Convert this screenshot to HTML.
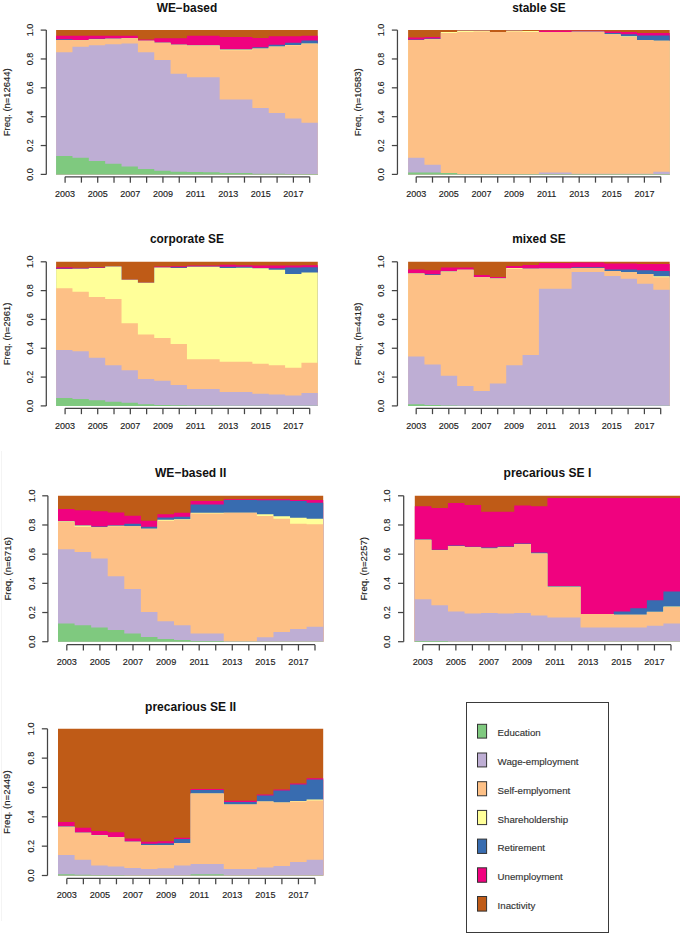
<!DOCTYPE html>
<html><head><meta charset="utf-8"><style>
html,body{margin:0;padding:0;background:#fff;}
svg{display:block;font-family:"Liberation Sans",sans-serif;}
text{stroke-width:0.15px;}
</style></head><body>
<svg width="685" height="936" viewBox="0 0 685 936">
<rect width="685" height="936" fill="#fff"/>
<path d="M1.5 451V921" stroke="#f4f4f4" stroke-width="1"/>
<path d="M56.1 174.4V30.1H72.46V30.1H88.81V30.1H105.17V30.1H121.53V30.1H137.88V30.1H154.24V30.1H170.59V30.1H186.95V30.1H203.31V30.1H219.66V30.1H236.02V30.1H252.37V30.1H268.73V30.1H285.09V30.1H301.44V30.1H317.8V174.4Z" fill="#BF5B17"/>
<path d="M56.1 174.4V35.87H72.46V35.87H88.81V35.87H105.17V35.87H121.53V35.87H137.88V39.48H154.24V38.18H170.59V38.18H186.95V35.87H203.31V35.87H219.66V36.88H236.02V36.88H252.37V37.89H268.73V36.3H285.09V36.3H301.44V35.87H317.8V174.4Z" fill="#F0027F"/>
<path d="M56.1 174.4V39.34H72.46V40.06H88.81V38.76H105.17V38.61H121.53V38.04H137.88V40.78H154.24V42.51H170.59V44.53H186.95V45.11H203.31V45.11H219.66V49.15H236.02V49.15H252.37V47.13H268.73V44.82H285.09V42.8H301.44V40.49H317.8V174.4Z" fill="#386CB0"/>
<path d="M56.1 174.4V39.91H72.46V40.2H88.81V39.19H105.17V38.76H121.53V38.18H137.88V40.78H154.24V42.8H170.59V44.82H186.95V45.4H203.31V45.4H219.66V49.44H236.02V49.44H252.37V48.57H268.73V46.55H285.09V44.96H301.44V43.52H317.8V174.4Z" fill="#FFFF99"/>
<path d="M56.1 174.4V39.91H72.46V40.2H88.81V39.19H105.17V38.76H121.53V38.18H137.88V40.78H154.24V42.8H170.59V44.82H186.95V45.4H203.31V45.4H219.66V50.16H236.02V50.16H252.37V48.86H268.73V46.84H285.09V45.25H301.44V43.81H317.8V174.4Z" fill="#FDC086"/>
<path d="M56.1 174.4V52.32H72.46V46.84H88.81V45.25H105.17V44.24H121.53V43.38H137.88V52.32H154.24V60.11H170.59V73.68H186.95V77.14H203.31V77.14H219.66V99.51H236.02V99.51H252.37V107.88H268.73V112.93H285.09V118.41H301.44V122.74H317.8V174.4Z" fill="#BEAED4"/>
<path d="M56.1 174.4V156.07H72.46V157.66H88.81V161.12H105.17V163.72H121.53V166.46H137.88V169.06H154.24V170.65H170.59V171.66H186.95V171.95H203.31V172.24H219.66V172.96H236.02V172.96H252.37V173.68H268.73V173.82H285.09V173.97H301.44V174.11H317.8V174.4Z" fill="#7FC97F"/>
<g stroke="#444" stroke-width="1.25" fill="none"><path d="M46.3 174.4V30.1" /><path d="M40.7 174.4H46.3" /><path d="M40.7 145.54H46.3" /><path d="M40.7 116.68H46.3" /><path d="M40.7 87.82H46.3" /><path d="M40.7 58.96H46.3" /><path d="M40.7 30.1H46.3" /><path d="M65.1 176.85H309.7" /><path d="M65.1 176.85V182.65" /><path d="M81.41 176.85V182.65" /><path d="M97.71 176.85V182.65" /><path d="M114.02 176.85V182.65" /><path d="M130.33 176.85V182.65" /><path d="M146.63 176.85V182.65" /><path d="M162.94 176.85V182.65" /><path d="M179.25 176.85V182.65" /><path d="M195.55 176.85V182.65" /><path d="M211.86 176.85V182.65" /><path d="M228.17 176.85V182.65" /><path d="M244.47 176.85V182.65" /><path d="M260.78 176.85V182.65" /><path d="M277.09 176.85V182.65" /><path d="M293.39 176.85V182.65" /><path d="M309.7 176.85V182.65" /></g>
<g font-size="9" fill="#222" stroke="#222"><text transform="translate(33.1 174.4) rotate(-90)" text-anchor="middle">0.0</text><text transform="translate(33.1 145.54) rotate(-90)" text-anchor="middle">0.2</text><text transform="translate(33.1 116.68) rotate(-90)" text-anchor="middle">0.4</text><text transform="translate(33.1 87.82) rotate(-90)" text-anchor="middle">0.6</text><text transform="translate(33.1 58.96) rotate(-90)" text-anchor="middle">0.8</text><text transform="translate(33.1 30.1) rotate(-90)" text-anchor="middle">1.0</text><text x="65.1" y="197" text-anchor="middle">2003</text><text x="97.71" y="197" text-anchor="middle">2005</text><text x="130.33" y="197" text-anchor="middle">2007</text><text x="162.94" y="197" text-anchor="middle">2009</text><text x="195.55" y="197" text-anchor="middle">2011</text><text x="228.17" y="197" text-anchor="middle">2013</text><text x="260.78" y="197" text-anchor="middle">2015</text><text x="293.39" y="197" text-anchor="middle">2017</text></g>
<text transform="translate(9.7 102.25) rotate(-90)" text-anchor="middle" font-size="9.45" fill="#222" stroke="#222">Freq. (n=12644)</text>
<text x="186.95" y="11.6" text-anchor="middle" font-size="11.9" font-weight="bold" fill="#111">WE−based</text>
<path d="M408.1 174.4V30.1H424.45V30.1H440.8V30.1H457.15V30.1H473.5V30.1H489.85V30.1H506.2V30.1H522.55V30.1H538.9V30.1H555.25V30.1H571.6V30.1H587.95V30.1H604.3V30.1H620.65V30.1H637V30.1H653.35V30.1H669.7V174.4Z" fill="#BF5B17"/>
<path d="M408.1 174.4V37.46H424.45V36.88H440.8V31.98H457.15V30.82H473.5V30.82H489.85V31.98H506.2V30.82H522.55V30.97H538.9V30.39H555.25V30.39H571.6V30.82H587.95V30.82H604.3V31.4H620.65V31.98H637V32.99H653.35V32.99H669.7V174.4Z" fill="#F0027F"/>
<path d="M408.1 174.4V39.48H424.45V38.47H440.8V31.98H457.15V30.82H473.5V30.82H489.85V31.98H506.2V30.82H522.55V30.97H538.9V31.98H555.25V31.98H571.6V31.4H587.95V31.4H604.3V32.99H620.65V34.28H637V35.44H653.35V35.44H669.7V174.4Z" fill="#386CB0"/>
<path d="M408.1 174.4V39.91H424.45V39.19H440.8V31.98H457.15V30.82H473.5V30.82H489.85V31.98H506.2V30.82H522.55V30.97H538.9V31.98H555.25V31.98H571.6V31.83H587.95V31.83H604.3V34.28H620.65V36.3H637V39.91H653.35V40.78H669.7V174.4Z" fill="#FFFF99"/>
<path d="M408.1 174.4V39.91H424.45V39.19H440.8V32.99H457.15V31.98H473.5V31.54H489.85V31.98H506.2V31.54H522.55V32.12H538.9V31.98H555.25V31.98H571.6V31.83H587.95V31.83H604.3V34.28H620.65V36.88H637V39.91H653.35V40.78H669.7V174.4Z" fill="#FDC086"/>
<path d="M408.1 174.4V157.66H424.45V164.73H440.8V172.96H457.15V173.97H473.5V174.11H489.85V174.11H506.2V174.11H522.55V174.11H538.9V172.38H555.25V172.38H571.6V173.68H587.95V173.68H604.3V173.68H620.65V173.68H637V173.68H653.35V171.8H669.7V174.4Z" fill="#BEAED4"/>
<path d="M408.1 174.4V172.38H424.45V172.38H440.8V172.96H457.15V173.97H473.5V174.11H489.85V174.11H506.2V174.11H522.55V174.11H538.9V173.97H555.25V173.97H571.6V173.97H587.95V173.97H604.3V173.97H620.65V173.97H637V173.97H653.35V173.97H669.7V174.4Z" fill="#7FC97F"/>
<g stroke="#444" stroke-width="1.25" fill="none"><path d="M397.45 174.4V30.1" /><path d="M391.85 174.4H397.45" /><path d="M391.85 145.54H397.45" /><path d="M391.85 116.68H397.45" /><path d="M391.85 87.82H397.45" /><path d="M391.85 58.96H397.45" /><path d="M391.85 30.1H397.45" /><path d="M416.2 176.85H660.7" /><path d="M416.2 176.85V182.65" /><path d="M432.5 176.85V182.65" /><path d="M448.8 176.85V182.65" /><path d="M465.1 176.85V182.65" /><path d="M481.4 176.85V182.65" /><path d="M497.7 176.85V182.65" /><path d="M514 176.85V182.65" /><path d="M530.3 176.85V182.65" /><path d="M546.6 176.85V182.65" /><path d="M562.9 176.85V182.65" /><path d="M579.2 176.85V182.65" /><path d="M595.5 176.85V182.65" /><path d="M611.8 176.85V182.65" /><path d="M628.1 176.85V182.65" /><path d="M644.4 176.85V182.65" /><path d="M660.7 176.85V182.65" /></g>
<g font-size="9" fill="#222" stroke="#222"><text transform="translate(384.25 174.4) rotate(-90)" text-anchor="middle">0.0</text><text transform="translate(384.25 145.54) rotate(-90)" text-anchor="middle">0.2</text><text transform="translate(384.25 116.68) rotate(-90)" text-anchor="middle">0.4</text><text transform="translate(384.25 87.82) rotate(-90)" text-anchor="middle">0.6</text><text transform="translate(384.25 58.96) rotate(-90)" text-anchor="middle">0.8</text><text transform="translate(384.25 30.1) rotate(-90)" text-anchor="middle">1.0</text><text x="416.2" y="197" text-anchor="middle">2003</text><text x="448.8" y="197" text-anchor="middle">2005</text><text x="481.4" y="197" text-anchor="middle">2007</text><text x="514" y="197" text-anchor="middle">2009</text><text x="546.6" y="197" text-anchor="middle">2011</text><text x="579.2" y="197" text-anchor="middle">2013</text><text x="611.8" y="197" text-anchor="middle">2015</text><text x="644.4" y="197" text-anchor="middle">2017</text></g>
<text transform="translate(360.85 102.25) rotate(-90)" text-anchor="middle" font-size="9.45" fill="#222" stroke="#222">Freq. (n=10583)</text>
<text x="538.9" y="11.6" text-anchor="middle" font-size="11.9" font-weight="bold" fill="#111">stable SE</text>
<path d="M56.1 405.9V261.8H72.46V261.8H88.81V261.8H105.17V261.8H121.53V261.8H137.88V261.8H154.24V261.8H170.59V261.8H186.95V261.8H203.31V261.8H219.66V261.8H236.02V261.8H252.37V261.8H268.73V261.8H285.09V261.8H301.44V261.8H317.8V405.9Z" fill="#BF5B17"/>
<path d="M56.1 405.9V267.28H72.46V267.85H88.81V267.13H105.17V266.56H121.53V279.81H137.88V282.84H154.24V266.41H170.59V266.27H186.95V265.55H203.31V265.55H219.66V264.83H236.02V265.26H252.37V265.55H268.73V265.55H285.09V265.55H301.44V265.26H317.8V405.9Z" fill="#F0027F"/>
<path d="M56.1 405.9V268.57H72.46V268.57H88.81V267.85H105.17V266.56H121.53V279.81H137.88V282.84H154.24V267.42H170.59V267.28H186.95V266.56H203.31V266.56H219.66V266.7H236.02V266.7H252.37V268H268.73V268.28H285.09V267.56H301.44V267.28H317.8V405.9Z" fill="#386CB0"/>
<path d="M56.1 405.9V269H72.46V268.72H88.81V268H105.17V266.56H121.53V279.81H137.88V282.84H154.24V267.56H170.59V268H186.95V266.7H203.31V266.7H219.66V268H236.02V267.85H252.37V268.28H268.73V269.73H285.09V274.05H301.44V272.61H317.8V405.9Z" fill="#FFFF99"/>
<path d="M56.1 405.9V288.17H72.46V291.77H88.81V297.1H105.17V299.12H121.53V323.19H137.88V334.43H154.24V338.03H170.59V343.94H186.95V359.21H203.31V359.21H219.66V361.66H236.02V361.66H252.37V363.68H268.73V365.26H285.09V367.86H301.44V362.81H317.8V405.9Z" fill="#FDC086"/>
<path d="M56.1 405.9V349.99H72.46V351.29H88.81V357.63H105.17V365.26H121.53V370.16H137.88V379.1H154.24V380.68H170.59V385.01H186.95V389.04H203.31V389.04H219.66V392.07H236.02V392.07H252.37V393.65H268.73V394.52H285.09V395.52H301.44V392.93H317.8V405.9Z" fill="#BEAED4"/>
<path d="M56.1 405.9V397.97H72.46V398.98H88.81V400.28H105.17V401.87H121.53V402.87H137.88V404.31H154.24V404.89H170.59V405.32H186.95V405.61H203.31V405.61H219.66V405.76H236.02V405.76H252.37V405.76H268.73V405.76H285.09V405.76H301.44V405.76H317.8V405.9Z" fill="#7FC97F"/>
<g stroke="#444" stroke-width="1.25" fill="none"><path d="M46.3 405.9V261.8" /><path d="M40.7 405.9H46.3" /><path d="M40.7 377.08H46.3" /><path d="M40.7 348.26H46.3" /><path d="M40.7 319.44H46.3" /><path d="M40.7 290.62H46.3" /><path d="M40.7 261.8H46.3" /><path d="M65.1 408.35H309.7" /><path d="M65.1 408.35V414.15" /><path d="M81.41 408.35V414.15" /><path d="M97.71 408.35V414.15" /><path d="M114.02 408.35V414.15" /><path d="M130.33 408.35V414.15" /><path d="M146.63 408.35V414.15" /><path d="M162.94 408.35V414.15" /><path d="M179.25 408.35V414.15" /><path d="M195.55 408.35V414.15" /><path d="M211.86 408.35V414.15" /><path d="M228.17 408.35V414.15" /><path d="M244.47 408.35V414.15" /><path d="M260.78 408.35V414.15" /><path d="M277.09 408.35V414.15" /><path d="M293.39 408.35V414.15" /><path d="M309.7 408.35V414.15" /></g>
<g font-size="9" fill="#222" stroke="#222"><text transform="translate(33.1 405.9) rotate(-90)" text-anchor="middle">0.0</text><text transform="translate(33.1 377.08) rotate(-90)" text-anchor="middle">0.2</text><text transform="translate(33.1 348.26) rotate(-90)" text-anchor="middle">0.4</text><text transform="translate(33.1 319.44) rotate(-90)" text-anchor="middle">0.6</text><text transform="translate(33.1 290.62) rotate(-90)" text-anchor="middle">0.8</text><text transform="translate(33.1 261.8) rotate(-90)" text-anchor="middle">1.0</text><text x="65.1" y="428.5" text-anchor="middle">2003</text><text x="97.71" y="428.5" text-anchor="middle">2005</text><text x="130.33" y="428.5" text-anchor="middle">2007</text><text x="162.94" y="428.5" text-anchor="middle">2009</text><text x="195.55" y="428.5" text-anchor="middle">2011</text><text x="228.17" y="428.5" text-anchor="middle">2013</text><text x="260.78" y="428.5" text-anchor="middle">2015</text><text x="293.39" y="428.5" text-anchor="middle">2017</text></g>
<text transform="translate(9.7 333.85) rotate(-90)" text-anchor="middle" font-size="9.45" fill="#222" stroke="#222">Freq. (n=2961)</text>
<text x="186.95" y="243.3" text-anchor="middle" font-size="11.9" font-weight="bold" fill="#111">corporate SE</text>
<path d="M408.1 405.9V261.8H424.45V261.8H440.8V261.8H457.15V261.8H473.5V261.8H489.85V261.8H506.2V261.8H522.55V261.8H538.9V261.8H555.25V261.8H571.6V261.8H587.95V261.8H604.3V261.8H620.65V261.8H637V261.8H653.35V261.8H669.7V405.9Z" fill="#BF5B17"/>
<path d="M408.1 405.9V269.58H424.45V270.3H440.8V267.56H457.15V267.56H473.5V274.91H489.85V276.93H506.2V265.98H522.55V264.97H538.9V262.95H555.25V262.95H571.6V262.38H587.95V262.38H604.3V263.53H620.65V263.53H637V263.96H653.35V263.96H669.7V405.9Z" fill="#F0027F"/>
<path d="M408.1 405.9V273.18H424.45V274.34H440.8V270.88H457.15V269.87H473.5V277.22H489.85V278.08H506.2V268H522.55V268.57H538.9V268.57H555.25V268.57H571.6V267.28H587.95V267.28H604.3V269.58H620.65V269.58H637V270.3H653.35V270.88H669.7V405.9Z" fill="#386CB0"/>
<path d="M408.1 405.9V273.47H424.45V274.91H440.8V271.45H457.15V269.87H473.5V277.22H489.85V278.52H506.2V268H522.55V268.86H538.9V268.57H555.25V268.57H571.6V268H587.95V268H604.3V270.88H620.65V272.32H637V273.9H653.35V276.21H669.7V405.9Z" fill="#FFFF99"/>
<path d="M408.1 405.9V273.47H424.45V274.91H440.8V271.45H457.15V269.87H473.5V277.22H489.85V278.52H506.2V268.86H522.55V268.86H538.9V269H555.25V269H571.6V268H587.95V268H604.3V270.88H620.65V272.32H637V273.9H653.35V277.22H669.7V405.9Z" fill="#FDC086"/>
<path d="M408.1 405.9V356.62H424.45V364.54H440.8V375.78H457.15V386.01H473.5V391.06H489.85V383.42H506.2V365.26H522.55V354.89H538.9V288.75H555.25V288.75H571.6V271.89H587.95V271.89H604.3V275.92H620.65V278.8H637V283.85H653.35V289.76H669.7V405.9Z" fill="#BEAED4"/>
<path d="M408.1 405.9V404.31H424.45V404.89H440.8V405.61H457.15V405.76H473.5V405.76H489.85V405.76H506.2V405.76H522.55V405.76H538.9V405.76H555.25V405.76H571.6V405.76H587.95V405.76H604.3V405.76H620.65V405.76H637V405.76H653.35V405.76H669.7V405.9Z" fill="#7FC97F"/>
<g stroke="#444" stroke-width="1.25" fill="none"><path d="M397.45 405.9V261.8" /><path d="M391.85 405.9H397.45" /><path d="M391.85 377.08H397.45" /><path d="M391.85 348.26H397.45" /><path d="M391.85 319.44H397.45" /><path d="M391.85 290.62H397.45" /><path d="M391.85 261.8H397.45" /><path d="M416.2 408.35H660.7" /><path d="M416.2 408.35V414.15" /><path d="M432.5 408.35V414.15" /><path d="M448.8 408.35V414.15" /><path d="M465.1 408.35V414.15" /><path d="M481.4 408.35V414.15" /><path d="M497.7 408.35V414.15" /><path d="M514 408.35V414.15" /><path d="M530.3 408.35V414.15" /><path d="M546.6 408.35V414.15" /><path d="M562.9 408.35V414.15" /><path d="M579.2 408.35V414.15" /><path d="M595.5 408.35V414.15" /><path d="M611.8 408.35V414.15" /><path d="M628.1 408.35V414.15" /><path d="M644.4 408.35V414.15" /><path d="M660.7 408.35V414.15" /></g>
<g font-size="9" fill="#222" stroke="#222"><text transform="translate(384.25 405.9) rotate(-90)" text-anchor="middle">0.0</text><text transform="translate(384.25 377.08) rotate(-90)" text-anchor="middle">0.2</text><text transform="translate(384.25 348.26) rotate(-90)" text-anchor="middle">0.4</text><text transform="translate(384.25 319.44) rotate(-90)" text-anchor="middle">0.6</text><text transform="translate(384.25 290.62) rotate(-90)" text-anchor="middle">0.8</text><text transform="translate(384.25 261.8) rotate(-90)" text-anchor="middle">1.0</text><text x="416.2" y="428.5" text-anchor="middle">2003</text><text x="448.8" y="428.5" text-anchor="middle">2005</text><text x="481.4" y="428.5" text-anchor="middle">2007</text><text x="514" y="428.5" text-anchor="middle">2009</text><text x="546.6" y="428.5" text-anchor="middle">2011</text><text x="579.2" y="428.5" text-anchor="middle">2013</text><text x="611.8" y="428.5" text-anchor="middle">2015</text><text x="644.4" y="428.5" text-anchor="middle">2017</text></g>
<text transform="translate(360.85 333.85) rotate(-90)" text-anchor="middle" font-size="9.45" fill="#222" stroke="#222">Freq. (n=4418)</text>
<text x="538.9" y="243.3" text-anchor="middle" font-size="11.9" font-weight="bold" fill="#111">mixed SE</text>
<path d="M58 641.7V495.8H74.58V495.8H91.15V495.8H107.72V495.8H124.3V495.8H140.88V495.8H157.45V495.8H174.02V495.8H190.6V495.8H207.17V495.8H223.75V495.8H240.32V495.8H256.9V495.8H273.48V495.8H290.05V495.8H306.62V495.8H323.2V641.7Z" fill="#BF5B17"/>
<path d="M58 641.7V508.93H74.58V510.24H91.15V511.27H107.72V512.43H124.3V515.79H140.88V520.75H157.45V514.33H174.02V512.87H190.6V500.91H207.17V500.91H223.75V499.3H240.32V499.3H256.9V499.3H273.48V499.3H290.05V500.03H306.62V500.03H323.2V641.7Z" fill="#F0027F"/>
<path d="M58 641.7V520.89H74.58V525.13H91.15V526.44H107.72V525.13H124.3V523.81H140.88V526.73H157.45V517.39H174.02V516.81H190.6V504.41H207.17V504.41H223.75V500.03H240.32V500.03H256.9V500.32H273.48V500.32H290.05V500.91H306.62V502.8H323.2V641.7Z" fill="#386CB0"/>
<path d="M58 641.7V521.33H74.58V525.42H91.15V527.31H107.72V525.71H124.3V526.15H140.88V528.77H157.45V519.87H174.02V519.29H190.6V512.87H207.17V512.87H223.75V512.87H240.32V512.87H256.9V514.33H273.48V516.23H290.05V517.83H306.62V518.85H323.2V641.7Z" fill="#FFFF99"/>
<path d="M58 641.7V521.77H74.58V526.73H91.15V527.31H107.72V526.15H124.3V526.15H140.88V528.77H157.45V520.75H174.02V519.87H190.6V513.45H207.17V513.45H223.75V512.87H240.32V512.87H256.9V515.93H273.48V518.85H290.05V523.81H306.62V524.25H323.2V641.7Z" fill="#FDC086"/>
<path d="M58 641.7V549.2H74.58V551.97H91.15V558.54H107.72V576.34H124.3V588.88H140.88V612.08H157.45V621.13H174.02V625.36H190.6V633.38H207.17V633.38H223.75V641.26H240.32V641.26H256.9V637.32H273.48V631.92H290.05V629.01H306.62V626.67H323.2V641.7Z" fill="#BEAED4"/>
<path d="M58 641.7V623.61H74.58V625.36H91.15V627.4H107.72V630.03H124.3V633.38H140.88V636.89H157.45V638.93H174.02V639.95H190.6V640.97H207.17V640.97H223.75V641.55H240.32V641.55H256.9V641.55H273.48V641.55H290.05V641.55H306.62V641.55H323.2V641.7Z" fill="#7FC97F"/>
<g stroke="#444" stroke-width="1.25" fill="none"><path d="M47.9 641.7V495.8" /><path d="M42.23 641.7H47.9" /><path d="M42.23 612.52H47.9" /><path d="M42.23 583.34H47.9" /><path d="M42.23 554.16H47.9" /><path d="M42.23 524.98H47.9" /><path d="M42.23 495.8H47.9" /><path d="M66.81 644.7H314.99" /><path d="M66.81 644.7V650.58" /><path d="M83.36 644.7V650.58" /><path d="M99.9 644.7V650.58" /><path d="M116.45 644.7V650.58" /><path d="M132.99 644.7V650.58" /><path d="M149.54 644.7V650.58" /><path d="M166.09 644.7V650.58" /><path d="M182.63 644.7V650.58" /><path d="M199.18 644.7V650.58" /><path d="M215.72 644.7V650.58" /><path d="M232.27 644.7V650.58" /><path d="M248.81 644.7V650.58" /><path d="M265.36 644.7V650.58" /><path d="M281.9 644.7V650.58" /><path d="M298.45 644.7V650.58" /><path d="M314.99 644.7V650.58" /></g>
<g font-size="9.12" fill="#222" stroke="#222"><text transform="translate(34.53 641.7) rotate(-90)" text-anchor="middle">0.0</text><text transform="translate(34.53 612.52) rotate(-90)" text-anchor="middle">0.2</text><text transform="translate(34.53 583.34) rotate(-90)" text-anchor="middle">0.4</text><text transform="translate(34.53 554.16) rotate(-90)" text-anchor="middle">0.6</text><text transform="translate(34.53 524.98) rotate(-90)" text-anchor="middle">0.8</text><text transform="translate(34.53 495.8) rotate(-90)" text-anchor="middle">1.0</text><text x="66.81" y="664.59" text-anchor="middle">2003</text><text x="99.9" y="664.59" text-anchor="middle">2005</text><text x="132.99" y="664.59" text-anchor="middle">2007</text><text x="166.09" y="664.59" text-anchor="middle">2009</text><text x="199.18" y="664.59" text-anchor="middle">2011</text><text x="232.27" y="664.59" text-anchor="middle">2013</text><text x="265.36" y="664.59" text-anchor="middle">2015</text><text x="298.45" y="664.59" text-anchor="middle">2017</text></g>
<text transform="translate(10.82 568.75) rotate(-90)" text-anchor="middle" font-size="9.57" fill="#222" stroke="#222">Freq. (n=6716)</text>
<text x="190.6" y="477.06" text-anchor="middle" font-size="12.05" font-weight="bold" fill="#111">WE−based II</text>
<path d="M414.8 641.7V495.8H431.38V495.8H447.95V495.8H464.52V495.8H481.1V495.8H497.68V495.8H514.25V495.8H530.83V495.8H547.4V495.8H563.98V495.8H580.55V495.8H597.12V495.8H613.7V495.8H630.27V495.8H646.85V495.8H663.42V495.8H680V641.7Z" fill="#BF5B17"/>
<path d="M414.8 641.7V506.3H431.38V507.91H447.95V502.95H464.52V504.99H481.1V511.85H497.68V511.85H514.25V505.58H530.83V506.3H547.4V497.99H563.98V497.99H580.55V497.99H597.12V497.99H613.7V497.99H630.27V497.99H646.85V497.99H663.42V497.99H680V641.7Z" fill="#F0027F"/>
<path d="M414.8 641.7V539.28H431.38V549.64H447.95V545.55H464.52V546.72H481.1V547.59H497.68V546.57H514.25V543.51H530.83V552.56H547.4V586.11H563.98V586.11H580.55V613.98H597.12V613.98H613.7V611.5H630.27V608.14H646.85V600.26H663.42V591.51H680V641.7Z" fill="#386CB0"/>
<path d="M414.8 641.7V539.72H431.38V550.22H447.95V545.99H464.52V547.16H481.1V548.62H497.68V547.16H514.25V544.09H530.83V553.58H547.4V586.84H563.98V586.84H580.55V614.12H597.12V614.12H613.7V614.71H630.27V614.71H646.85V611.79H663.42V606.54H680V641.7Z" fill="#FFFF99"/>
<path d="M414.8 641.7V539.72H431.38V550.22H447.95V545.99H464.52V547.16H481.1V548.62H497.68V547.16H514.25V544.09H530.83V553.58H547.4V586.84H563.98V586.84H580.55V614.12H597.12V614.12H613.7V614.71H630.27V614.71H646.85V612.08H663.42V607.12H680V641.7Z" fill="#FDC086"/>
<path d="M414.8 641.7V599.24H431.38V605.23H447.95V611.5H464.52V613.54H481.1V613.1H497.68V613.54H514.25V613.1H530.83V615.44H547.4V617.48H563.98V617.48H580.55V627.55H597.12V627.55H613.7V627.55H630.27V627.55H646.85V625.65H663.42V623.61H680V641.7Z" fill="#BEAED4"/>
<path d="M414.8 641.7V640.97H431.38V641.12H447.95V641.41H464.52V641.55H481.1V641.55H497.68V641.55H514.25V641.55H530.83V641.55H547.4V641.55H563.98V641.55H580.55V641.55H597.12V641.55H613.7V641.55H630.27V641.55H646.85V641.55H663.42V641.55H680V641.7Z" fill="#7FC97F"/>
<g stroke="#444" stroke-width="1.25" fill="none"><path d="M403.7 641.7V495.8" /><path d="M398.03 641.7H403.7" /><path d="M398.03 612.52H403.7" /><path d="M398.03 583.34H403.7" /><path d="M398.03 554.16H403.7" /><path d="M398.03 524.98H403.7" /><path d="M398.03 495.8H403.7" /><path d="M422.77 644.7H670.98" /><path d="M422.77 644.7V650.58" /><path d="M439.32 644.7V650.58" /><path d="M455.87 644.7V650.58" /><path d="M472.41 644.7V650.58" /><path d="M488.96 644.7V650.58" /><path d="M505.51 644.7V650.58" /><path d="M522.06 644.7V650.58" /><path d="M538.6 644.7V650.58" /><path d="M555.15 644.7V650.58" /><path d="M571.7 644.7V650.58" /><path d="M588.25 644.7V650.58" /><path d="M604.79 644.7V650.58" /><path d="M621.34 644.7V650.58" /><path d="M637.89 644.7V650.58" /><path d="M654.44 644.7V650.58" /><path d="M670.98 644.7V650.58" /></g>
<g font-size="9.12" fill="#222" stroke="#222"><text transform="translate(390.33 641.7) rotate(-90)" text-anchor="middle">0.0</text><text transform="translate(390.33 612.52) rotate(-90)" text-anchor="middle">0.2</text><text transform="translate(390.33 583.34) rotate(-90)" text-anchor="middle">0.4</text><text transform="translate(390.33 554.16) rotate(-90)" text-anchor="middle">0.6</text><text transform="translate(390.33 524.98) rotate(-90)" text-anchor="middle">0.8</text><text transform="translate(390.33 495.8) rotate(-90)" text-anchor="middle">1.0</text><text x="422.77" y="664.59" text-anchor="middle">2003</text><text x="455.87" y="664.59" text-anchor="middle">2005</text><text x="488.96" y="664.59" text-anchor="middle">2007</text><text x="522.06" y="664.59" text-anchor="middle">2009</text><text x="555.15" y="664.59" text-anchor="middle">2011</text><text x="588.25" y="664.59" text-anchor="middle">2013</text><text x="621.34" y="664.59" text-anchor="middle">2015</text><text x="654.44" y="664.59" text-anchor="middle">2017</text></g>
<text transform="translate(366.62 568.75) rotate(-90)" text-anchor="middle" font-size="9.57" fill="#222" stroke="#222">Freq. (n=2257)</text>
<text x="547.4" y="477.06" text-anchor="middle" font-size="12.05" font-weight="bold" fill="#111">precarious SE I</text>
<path d="M58 875.5V728.8H74.58V728.8H91.15V728.8H107.72V728.8H124.3V728.8H140.88V728.8H157.45V728.8H174.02V728.8H190.6V728.8H207.17V728.8H223.75V728.8H240.32V728.8H256.9V728.8H273.48V728.8H290.05V728.8H306.62V728.8H323.2V875.5Z" fill="#BF5B17"/>
<path d="M58 875.5V821.95H74.58V827.82H91.15V830.9H107.72V832.22H124.3V838.53H140.88V841.76H157.45V841.17H174.02V837.8H190.6V789.09H207.17V789.09H223.75V800.83H240.32V800.83H256.9V794.52H273.48V789.53H290.05V783.52H306.62V778.24H323.2V875.5Z" fill="#F0027F"/>
<path d="M58 875.5V826.21H74.58V832.52H91.15V835.01H107.72V836.92H124.3V841.47H140.88V843.67H157.45V843.23H174.02V839.12H190.6V790.12H207.17V790.12H223.75V802H240.32V802H256.9V795.55H273.48V790.56H290.05V784.55H306.62V779.56H323.2V875.5Z" fill="#386CB0"/>
<path d="M58 875.5V826.8H74.58V832.81H91.15V835.16H107.72V837.21H124.3V841.76H140.88V845.13H157.45V845.13H174.02V843.08H190.6V793.49H207.17V793.49H223.75V804.5H240.32V804.5H256.9V801.42H273.48V802.44H290.05V800.98H306.62V799.51H323.2V875.5Z" fill="#FFFF99"/>
<path d="M58 875.5V826.8H74.58V832.81H91.15V835.74H107.72V837.21H124.3V841.76H140.88V845.13H157.45V845.13H174.02V843.08H190.6V793.49H207.17V793.49H223.75V804.5H240.32V804.5H256.9V801.42H273.48V802.44H290.05V801.42H306.62V800.54H323.2V875.5Z" fill="#FDC086"/>
<path d="M58 875.5V855.11H74.58V859.66H91.15V865.52H107.72V866.4H124.3V868.02H140.88V868.9H157.45V868.31H174.02V865.52H190.6V864.06H207.17V864.06H223.75V868.9H240.32V868.9H256.9V867.58H273.48V865.96H290.05V862H306.62V859.66H323.2V875.5Z" fill="#BEAED4"/>
<path d="M58 875.5V874.33H74.58V874.77H91.15V874.91H107.72V875.06H124.3V875.21H140.88V875.21H157.45V875.21H174.02V875.21H190.6V874.33H207.17V874.33H223.75V875.21H240.32V875.21H256.9V875.21H273.48V875.21H290.05V875.21H306.62V875.21H323.2V875.5Z" fill="#7FC97F"/>
<g stroke="#444" stroke-width="1.25" fill="none"><path d="M47.5 875.5V728.8" /><path d="M41.83 875.5H47.5" /><path d="M41.83 846.16H47.5" /><path d="M41.83 816.82H47.5" /><path d="M41.83 787.48H47.5" /><path d="M41.83 758.14H47.5" /><path d="M41.83 728.8H47.5" /><path d="M66.81 878.4H314.99" /><path d="M66.81 878.4V884.28" /><path d="M83.36 878.4V884.28" /><path d="M99.9 878.4V884.28" /><path d="M116.45 878.4V884.28" /><path d="M132.99 878.4V884.28" /><path d="M149.54 878.4V884.28" /><path d="M166.09 878.4V884.28" /><path d="M182.63 878.4V884.28" /><path d="M199.18 878.4V884.28" /><path d="M215.72 878.4V884.28" /><path d="M232.27 878.4V884.28" /><path d="M248.81 878.4V884.28" /><path d="M265.36 878.4V884.28" /><path d="M281.9 878.4V884.28" /><path d="M298.45 878.4V884.28" /><path d="M314.99 878.4V884.28" /></g>
<g font-size="9.12" fill="#222" stroke="#222"><text transform="translate(34.13 875.5) rotate(-90)" text-anchor="middle">0.0</text><text transform="translate(34.13 846.16) rotate(-90)" text-anchor="middle">0.2</text><text transform="translate(34.13 816.82) rotate(-90)" text-anchor="middle">0.4</text><text transform="translate(34.13 787.48) rotate(-90)" text-anchor="middle">0.6</text><text transform="translate(34.13 758.14) rotate(-90)" text-anchor="middle">0.8</text><text transform="translate(34.13 728.8) rotate(-90)" text-anchor="middle">1.0</text><text x="66.81" y="898.39" text-anchor="middle">2003</text><text x="99.9" y="898.39" text-anchor="middle">2005</text><text x="132.99" y="898.39" text-anchor="middle">2007</text><text x="166.09" y="898.39" text-anchor="middle">2009</text><text x="199.18" y="898.39" text-anchor="middle">2011</text><text x="232.27" y="898.39" text-anchor="middle">2013</text><text x="265.36" y="898.39" text-anchor="middle">2015</text><text x="298.45" y="898.39" text-anchor="middle">2017</text></g>
<text transform="translate(10.42 802.15) rotate(-90)" text-anchor="middle" font-size="9.57" fill="#222" stroke="#222">Freq. (n=2449)</text>
<text x="190.6" y="710.9" text-anchor="middle" font-size="12.05" font-weight="bold" fill="#111">precarious SE II</text>
<rect x="466.5" y="702.5" width="142" height="230" fill="none" stroke="#3a3a3a" stroke-width="1"/>
<rect x="477.5" y="724.3" width="9.1" height="13.8" fill="#7FC97F" stroke="#333" stroke-width="1"/>
<text x="497.6" y="735.8" font-size="9.7" fill="#333" stroke="#333">Education</text>
<rect x="477.5" y="753" width="9.1" height="13.93" fill="#BEAED4" stroke="#333" stroke-width="1"/>
<text x="497.6" y="764.7" font-size="9.7" fill="#333" stroke="#333">Wage-employment</text>
<rect x="477.5" y="781.7" width="9.1" height="14.07" fill="#FDC086" stroke="#333" stroke-width="1"/>
<text x="497.6" y="793.6" font-size="9.7" fill="#333" stroke="#333">Self-emplyoment</text>
<rect x="477.5" y="810.4" width="9.1" height="14.2" fill="#FFFF99" stroke="#333" stroke-width="1"/>
<text x="497.6" y="822.5" font-size="9.7" fill="#333" stroke="#333">Shareholdership</text>
<rect x="477.5" y="839.1" width="9.1" height="14.33" fill="#386CB0" stroke="#333" stroke-width="1"/>
<text x="497.6" y="851.4" font-size="9.7" fill="#333" stroke="#333">Retirement</text>
<rect x="477.5" y="867.8" width="9.1" height="14.46" fill="#F0027F" stroke="#333" stroke-width="1"/>
<text x="497.6" y="880.3" font-size="9.7" fill="#333" stroke="#333">Unemployment</text>
<rect x="477.5" y="896.5" width="9.1" height="14.6" fill="#BF5B17" stroke="#333" stroke-width="1"/>
<text x="497.6" y="909.2" font-size="9.7" fill="#333" stroke="#333">Inactivity</text>
</svg>
</body></html>
